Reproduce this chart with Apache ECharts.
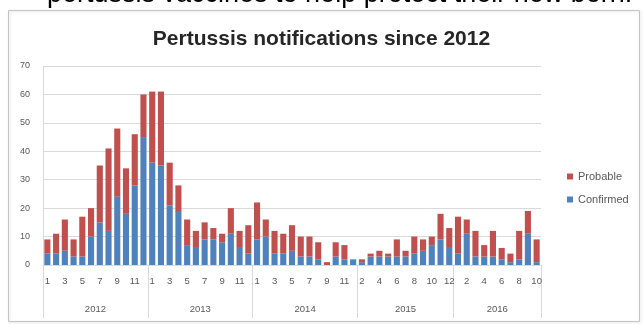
<!DOCTYPE html>
<html>
<head>
<meta charset="UTF-8">
<title>Pertussis notifications since 2012</title>
<script src="https://cdn.jsdelivr.net/npm/echarts@6/dist/echarts.min.js"></script>
<style>
html, body { margin: 0; padding: 0; background: #fff; }
#main { width: 643px; height: 324px; }
</style>
</head>
<body>
<div id="main"></div>
<script>
// years and the months reported in each (2015 starts at Feb)
var years = ['2012', '2013', '2014', '2015', '2016'];
var monthsByYear = [
  [1, 2, 3, 4, 5, 6, 7, 8, 9, 10, 11, 12],
  [1, 2, 3, 4, 5, 6, 7, 8, 9, 10, 11, 12],
  [1, 2, 3, 4, 5, 6, 7, 8, 9, 10, 11, 12],
  [2, 3, 4, 5, 6, 7, 8, 9, 10, 11, 12],
  [1, 2, 3, 4, 5, 6, 7, 8, 9, 10]
];

// notifications per month
var confirmed = [
  4, 4, 5, 3, 3, 10, 15, 12, 24, 18, 28, 45,
  36, 35, 21, 19, 7, 6, 9, 9, 8, 11, 6, 4,
  9, 10, 4, 4, 5, 3, 3, 2, 0, 3, 2, 2,
  1, 3, 3, 3, 3, 3, 4, 5, 7, 9, 6,
  4, 11, 3, 3, 3, 2, 1, 2, 11, 1
];
var probable = [
  5, 7, 11, 6, 14, 10, 20, 29, 24, 16, 18, 15,
  25, 26, 15, 9, 9, 6, 6, 4, 3, 9, 6, 10,
  13, 6, 8, 7, 9, 7, 7, 6, 1, 5, 5, 0,
  1, 1, 2, 1, 6, 2, 6, 4, 3, 9, 7,
  13, 5, 9, 4, 9, 4, 3, 10, 8, 8
];

var monthLabels = [];
var yearBounds = [0];
var yearMids = [];
monthsByYear.forEach(function (ms) {
  var start = monthLabels.length;
  ms.forEach(function (m) { monthLabels.push(String(m)); });
  yearBounds.push(monthLabels.length);
  yearMids.push((start + monthLabels.length) / 2);
});

var axisGrey = '#d9d9d9';
var textGrey = '#595959';
var font = 'Liberation Sans';

var myChart = echarts.init(document.getElementById('main'));
var option = {
  animation: false,
  title: {
    text: 'Pertussis notifications since 2012',
    left: 'center',
    top: 24,
    textStyle: { fontFamily: font, fontSize: 21, fontWeight: 'bold', color: '#262626' }
  },
  legend: {
    data: ['Probable', 'Confirmed'],
    orient: 'vertical',
    left: 562,
    top: 166,
    itemWidth: 6,
    itemHeight: 6,
    itemGap: 12,
    icon: 'rect',
    textStyle: { fontFamily: font, fontSize: 11, color: textGrey }
  },
  grid: { left: 43, right: 102, top: 66, bottom: 59 },
  xAxis: [
    {
      type: 'category',
      data: monthLabels,
      axisLine: { lineStyle: { color: axisGrey } },
      axisTick: { show: false },
      axisLabel: { interval: 1, margin: 11, fontSize: 9.5, fontFamily: font, color: textGrey }
    },
    {
      type: 'value',
      position: 'bottom',
      min: 0,
      max: monthLabels.length,
      axisLine: { show: false },
      splitLine: { show: false },
      axisTick: { show: true, customValues: yearBounds, length: 53, lineStyle: { color: axisGrey } },
      axisLabel: {
        customValues: yearMids,
        margin: 39,
        fontSize: 9.5,
        fontFamily: font,
        color: textGrey,
        formatter: function (v) { return years[yearMids.indexOf(v)] || ''; }
      }
    }
  ],
  yAxis: {
    type: 'value',
    min: 0,
    max: 70,
    interval: 10,
    axisLine: { show: true, lineStyle: { color: axisGrey } },
    axisTick: { show: false },
    splitLine: { lineStyle: { color: axisGrey } },
    axisLabel: { margin: 13, fontSize: 9, fontFamily: font, color: textGrey }
  },
  series: [
    {
      name: 'Confirmed',
      type: 'bar',
      stack: 'cases',
      data: confirmed,
      barCategoryGap: '30%',
      itemStyle: { color: '#4f81bd' }
    },
    {
      name: 'Probable',
      type: 'bar',
      stack: 'cases',
      data: probable,
      barCategoryGap: '30%',
      itemStyle: { color: '#c0504d' }
    }
  ],
  graphic: [
    {
      type: 'rect',
      z: -1,
      shape: { x: 8.5, y: 10.5, width: 631, height: 311 },
      style: { fill: 'none', stroke: '#c4c4c4', lineWidth: 1, shadowBlur: 3, shadowColor: 'rgba(0,0,0,0.15)', shadowOffsetX: 1, shadowOffsetY: 1 }
    },
    {
      type: 'text',
      x: 47,
      y: -5,
      style: {
        text: 'pertussis vaccines to help protect their new born.',
        font: '27px "Liberation Sans"',
        fill: '#000',
        verticalAlign: 'middle'
      }
    }
  ]
};
myChart.setOption(option);
</script>
</body>
</html>
